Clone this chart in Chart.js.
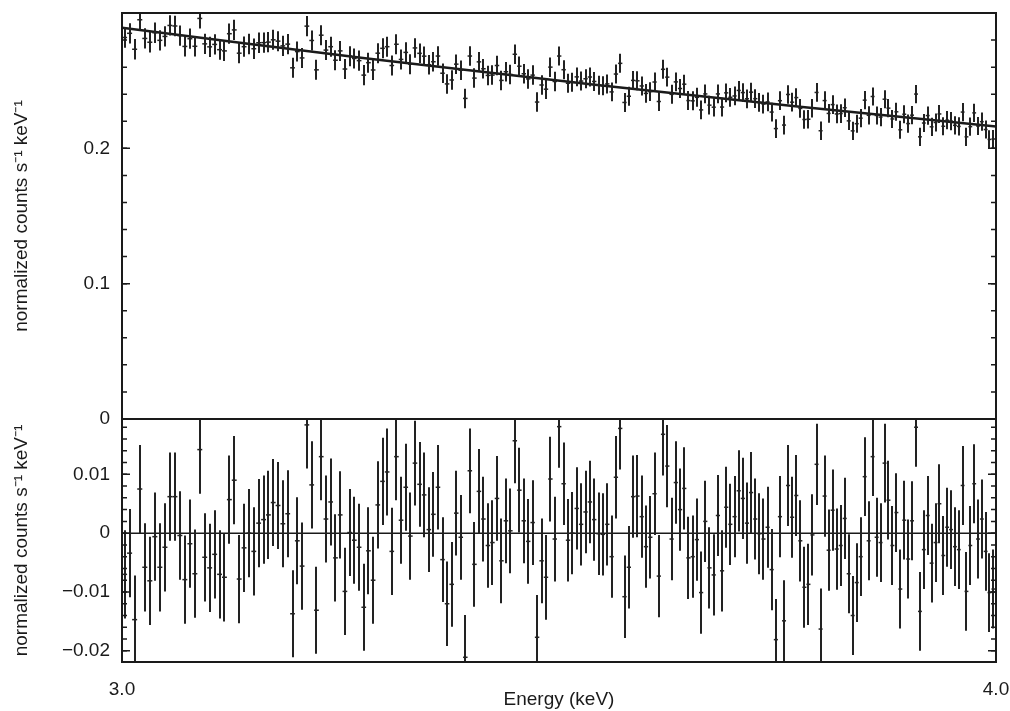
<!DOCTYPE html>
<html>
<head>
<meta charset="utf-8">
<title>Energy spectrum and residuals</title>
<script src="https://cdn.jsdelivr.net/npm/chart.js@4.4.1/dist/chart.umd.min.js"></script>
<style>
  html, body { margin: 0; padding: 0; background: #fff; }
  #wrap { width: 1010px; height: 711px; }
</style>
</head>
<body>
<div id="wrap"><canvas id="spectrum"></canvas></div>
<script>
// Channel centres (keV)
const energy = [
  3.0025, 3.0075, 3.0125, 3.0176, 3.0226, 3.0276, 3.0326, 3.0376, 3.0427, 3.0477,
  3.0527, 3.0577, 3.0627, 3.0678, 3.0728, 3.0778, 3.0828, 3.0878, 3.0929, 3.0979,
  3.1029, 3.1079, 3.1129, 3.1180, 3.1230, 3.1280, 3.1330, 3.1380, 3.1431, 3.1481,
  3.1531, 3.1581, 3.1631, 3.1682, 3.1732, 3.1782, 3.1832, 3.1882, 3.1933, 3.1983,
  3.2033, 3.2083, 3.2133, 3.2184, 3.2234, 3.2284, 3.2334, 3.2384, 3.2435, 3.2485,
  3.2535, 3.2585, 3.2635, 3.2686, 3.2736, 3.2786, 3.2836, 3.2886, 3.2937, 3.2987,
  3.3037, 3.3087, 3.3137, 3.3188, 3.3238, 3.3288, 3.3338, 3.3388, 3.3439, 3.3489,
  3.3539, 3.3589, 3.3639, 3.3690, 3.3740, 3.3790, 3.3840, 3.3890, 3.3941, 3.3991,
  3.4041, 3.4091, 3.4141, 3.4192, 3.4242, 3.4292, 3.4342, 3.4392, 3.4443, 3.4493,
  3.4543, 3.4593, 3.4643, 3.4694, 3.4744, 3.4794, 3.4844, 3.4894, 3.4945, 3.4995,
  3.5045, 3.5095, 3.5145, 3.5196, 3.5246, 3.5296, 3.5346, 3.5396, 3.5447, 3.5497,
  3.5547, 3.5597, 3.5647, 3.5698, 3.5748, 3.5798, 3.5848, 3.5898, 3.5949, 3.5999,
  3.6049, 3.6099, 3.6149, 3.6200, 3.6250, 3.6300, 3.6350, 3.6400, 3.6451, 3.6501,
  3.6551, 3.6601, 3.6651, 3.6702, 3.6752, 3.6802, 3.6852, 3.6902, 3.6953, 3.7003,
  3.7053, 3.7103, 3.7153, 3.7204, 3.7254, 3.7304, 3.7354, 3.7404, 3.7455, 3.7505,
  3.7555, 3.7605, 3.7655, 3.7706, 3.7756, 3.7806, 3.7856, 3.7906, 3.7957, 3.8007,
  3.8057, 3.8107, 3.8157, 3.8208, 3.8258, 3.8308, 3.8358, 3.8408, 3.8459, 3.8509,
  3.8559, 3.8609, 3.8659, 3.8710, 3.8760, 3.8810, 3.8860, 3.8910, 3.8961, 3.9011,
  3.9061, 3.9111, 3.9161, 3.9212, 3.9262, 3.9312, 3.9362, 3.9412, 3.9463, 3.9513,
  3.9563, 3.9613, 3.9663, 3.9714, 3.9764, 3.9814, 3.9864, 3.9914, 3.9965
];

// Normalized counts s^-1 keV^-1 per channel
const rate = [
  0.2819, 0.2850, 0.2732, 0.2950, 0.2812, 0.2784, 0.2854, 0.2798, 0.2827, 0.2908,
  0.2904, 0.2833, 0.2753, 0.2810, 0.2754, 0.2960, 0.2772, 0.2750, 0.2768, 0.2729,
  0.2720, 0.2847, 0.2875, 0.2703, 0.2751, 0.2771, 0.2736, 0.2780, 0.2781, 0.2785,
  0.2802, 0.2792, 0.2757, 0.2770, 0.2595, 0.2715, 0.2668, 0.2903, 0.2797, 0.2580,
  0.2836, 0.2726, 0.2751, 0.2651, 0.2720, 0.2586, 0.2681, 0.2664, 0.2648, 0.2541,
  0.2633, 0.2579, 0.2703, 0.2739, 0.2751, 0.2612, 0.2769, 0.2657, 0.2709, 0.2622,
  0.2742, 0.2702, 0.2681, 0.2618, 0.2640, 0.2682, 0.2555, 0.2476, 0.2505, 0.2622,
  0.2577, 0.2369, 0.2682, 0.2519, 0.2639, 0.2588, 0.2539, 0.2541, 0.2612, 0.2502,
  0.2566, 0.2546, 0.2695, 0.2607, 0.2551, 0.2513, 0.2541, 0.2342, 0.2468, 0.2437,
  0.2600, 0.2494, 0.2682, 0.2581, 0.2481, 0.2489, 0.2528, 0.2497, 0.2514, 0.2527,
  0.2494, 0.2466, 0.2462, 0.2476, 0.2417, 0.2549, 0.2628, 0.2339, 0.2385, 0.2502,
  0.2499, 0.2461, 0.2406, 0.2419, 0.2490, 0.2346, 0.2584, 0.2526, 0.2399, 0.2491,
  0.2442, 0.2474, 0.2353, 0.2351, 0.2377, 0.2284, 0.2402, 0.2319, 0.2304, 0.2402,
  0.2305, 0.2410, 0.2377, 0.2387, 0.2428, 0.2412, 0.2366, 0.2415, 0.2367, 0.2339,
  0.2327, 0.2343, 0.2268, 0.2146, 0.2352, 0.2172, 0.2398, 0.2341, 0.2375, 0.2295,
  0.2213, 0.2215, 0.2296, 0.2413, 0.2130, 0.2353, 0.2258, 0.2323, 0.2254, 0.2257,
  0.2300, 0.2203, 0.2129, 0.2182, 0.2223, 0.2356, 0.2244, 0.2383, 0.2243, 0.2231,
  0.2363, 0.2297, 0.2217, 0.2270, 0.2137, 0.2252, 0.2183, 0.2245, 0.2401, 0.2085,
  0.2187, 0.2242, 0.2159, 0.2191, 0.2254, 0.2163, 0.2208, 0.2201, 0.2170, 0.2162,
  0.2268, 0.2085, 0.2160, 0.2262, 0.2165, 0.2197, 0.2139, 0.2066, 0.2069
];

// Data minus model per channel
const resid = [
  -0.0070, -0.0034, -0.0147, 0.0075, -0.0058, -0.0081, -0.0006, -0.0058, -0.0024, 0.0062,
  0.0062, -0.0004, -0.0079, -0.0018, -0.0069, 0.0142, -0.0041, -0.0059, -0.0036, -0.0070,
  -0.0075, 0.0057, 0.0090, -0.0078, -0.0025, 0.0000, -0.0031, 0.0017, 0.0023, 0.0031,
  0.0052, 0.0047, 0.0016, 0.0033, -0.0137, -0.0013, -0.0056, 0.0184, 0.0082, -0.0131,
  0.0130, 0.0024, 0.0053, -0.0042, 0.0031, -0.0099, 0.0001, -0.0012, -0.0024, -0.0126,
  -0.0030, -0.0080, 0.0048, 0.0088, 0.0104, -0.0031, 0.0130, 0.0022, 0.0078, -0.0005,
  0.0119, 0.0083, 0.0065, 0.0006, 0.0032, 0.0078, -0.0045, -0.0120, -0.0087, 0.0034,
  -0.0007, -0.0211, 0.0106, -0.0053, 0.0071, 0.0024, -0.0021, -0.0016, 0.0059, -0.0047,
  0.0021, 0.0004, 0.0157, 0.0073, 0.0021, -0.0014, 0.0018, -0.0177, -0.0047, -0.0075,
  0.0092, -0.0010, 0.0181, 0.0084, -0.0012, 0.0000, 0.0042, 0.0015, 0.0036, 0.0053,
  0.0023, -0.0001, -0.0002, 0.0015, -0.0040, 0.0095, 0.0178, -0.0108, -0.0058, 0.0062,
  0.0063, 0.0028, -0.0023, -0.0007, 0.0067, -0.0073, 0.0168, 0.0114, -0.0010, 0.0086,
  0.0040, 0.0076, -0.0042, -0.0040, -0.0011, -0.0101, 0.0020, -0.0059, -0.0071, 0.0030,
  -0.0064, 0.0044, 0.0015, 0.0028, 0.0072, 0.0059, 0.0017, 0.0069, 0.0024, -0.0001,
  -0.0010, 0.0010, -0.0062, -0.0181, 0.0028, -0.0149, 0.0081, 0.0027, 0.0064, -0.0013,
  -0.0092, -0.0087, -0.0003, 0.0117, -0.0163, 0.0063, -0.0029, 0.0039, -0.0027, -0.0021,
  0.0025, -0.0069, -0.0140, -0.0084, -0.0040, 0.0096, -0.0013, 0.0130, -0.0007, -0.0016,
  0.0119, 0.0056, -0.0021, 0.0035, -0.0095, 0.0022, -0.0044, 0.0021, 0.0180, -0.0133,
  -0.0028, 0.0030, -0.0051, -0.0016, 0.0050, -0.0038, 0.0010, 0.0006, -0.0023, -0.0028,
  0.0081, -0.0099, -0.0021, 0.0084, -0.0010, 0.0024, -0.0031, -0.0101, -0.0095
];

// 1-sigma errors, shared by both panels
const rateErr = [
  0.0075, 0.0075, 0.0075, 0.0075, 0.0075, 0.0075, 0.0075, 0.0075, 0.0075, 0.0075,
  0.0075, 0.0075, 0.0075, 0.0075, 0.0075, 0.0075, 0.0075, 0.0075, 0.0075, 0.0075,
  0.0075, 0.0075, 0.0075, 0.0075, 0.0075, 0.0075, 0.0075, 0.0075, 0.0075, 0.0075,
  0.0074, 0.0074, 0.0074, 0.0074, 0.0074, 0.0074, 0.0074, 0.0074, 0.0074, 0.0074,
  0.0074, 0.0074, 0.0074, 0.0074, 0.0074, 0.0074, 0.0074, 0.0074, 0.0074, 0.0074,
  0.0074, 0.0074, 0.0074, 0.0074, 0.0074, 0.0074, 0.0074, 0.0074, 0.0074, 0.0074,
  0.0072, 0.0072, 0.0072, 0.0072, 0.0072, 0.0072, 0.0072, 0.0072, 0.0072, 0.0072,
  0.0072, 0.0072, 0.0072, 0.0072, 0.0072, 0.0072, 0.0072, 0.0072, 0.0072, 0.0072,
  0.0072, 0.0072, 0.0072, 0.0072, 0.0072, 0.0072, 0.0072, 0.0072, 0.0072, 0.0072,
  0.0072, 0.0072, 0.0070, 0.0070, 0.0070, 0.0070, 0.0070, 0.0070, 0.0070, 0.0070,
  0.0070, 0.0070, 0.0070, 0.0070, 0.0070, 0.0070, 0.0070, 0.0070, 0.0070, 0.0070,
  0.0070, 0.0070, 0.0070, 0.0070, 0.0070, 0.0070, 0.0070, 0.0070, 0.0070, 0.0070,
  0.0070, 0.0070, 0.0070, 0.0070, 0.0070, 0.0070, 0.0069, 0.0069, 0.0069, 0.0069,
  0.0069, 0.0069, 0.0069, 0.0069, 0.0069, 0.0069, 0.0069, 0.0069, 0.0069, 0.0069,
  0.0069, 0.0069, 0.0069, 0.0069, 0.0069, 0.0069, 0.0069, 0.0069, 0.0069, 0.0069,
  0.0069, 0.0069, 0.0069, 0.0069, 0.0069, 0.0069, 0.0069, 0.0069, 0.0069, 0.0069,
  0.0069, 0.0067, 0.0067, 0.0067, 0.0067, 0.0067, 0.0067, 0.0067, 0.0067, 0.0067,
  0.0067, 0.0067, 0.0067, 0.0067, 0.0067, 0.0067, 0.0067, 0.0067, 0.0067, 0.0067,
  0.0067, 0.0067, 0.0067, 0.0067, 0.0067, 0.0067, 0.0067, 0.0067, 0.0067, 0.0067,
  0.0067, 0.0067, 0.0067, 0.0067, 0.0067, 0.0067, 0.0067, 0.0067, 0.0067
];
const binHalfWidth = 0.0025;

// Folded model curve
const modelEnergy = [3.0, 3.125, 3.25, 3.375, 3.5, 3.625, 3.75, 3.875, 4.0];
const modelRate = [0.2891, 0.2774, 0.2666, 0.2567, 0.2474, 0.2388, 0.2308, 0.2233, 0.2162];

// Axis ticks
const energyTicks = [3, 4];
const rateTicks = [0, 0.1, 0.2];
const residTicks = [-0.02, -0.01, 0, 0.01];
const rateMinorStep = 0.02;
const residMinorStep = 0.002;

const INK = '#1a1a1a';
const BAR = '#222222';

Chart.defaults.font.family = "'Liberation Sans', Arial, Helvetica, sans-serif";
Chart.defaults.font.size = 19;
Chart.defaults.color = INK;

const fmt = v => (v < 0 ? '\u2212' + String(-v) : String(v));

// vertical + horizontal error bars, clipped to each panel
const errorBars = {
  id: 'errorBars',
  afterDatasetsDraw(chart) {
    const { ctx, chartArea, scales } = chart;
    const xs = scales.x;
    chart.data.datasets.forEach(ds => {
      if (!ds.yErr) return;
      const ys = scales[ds.yAxisID];
      ctx.save();
      ctx.beginPath();
      ctx.rect(chartArea.left, ys.top, chartArea.right - chartArea.left, ys.bottom - ys.top);
      ctx.clip();
      ctx.strokeStyle = ds.borderColor;
      ds.data.forEach((p, i) => {
        const px = Math.round(xs.getPixelForValue(p.x));
        const py = ys.getPixelForValue(p.y);
        ctx.lineWidth = 2;
        ctx.beginPath();
        ctx.moveTo(px, ys.getPixelForValue(p.y - ds.yErr[i]));
        ctx.lineTo(px, ys.getPixelForValue(p.y + ds.yErr[i]));
        ctx.stroke();
        ctx.lineWidth = 1.5;
        ctx.beginPath();
        ctx.moveTo(xs.getPixelForValue(p.x - ds.xErr), py);
        ctx.lineTo(xs.getPixelForValue(p.x + ds.xErr), py);
        ctx.stroke();
      });
      ctx.restore();
    });
  }
};

// panel boxes with inward ticks on both sides
const panelFrame = {
  id: 'panelFrame',
  afterDraw(chart) {
    const { ctx, chartArea } = chart;
    const L = chartArea.left, R = chartArea.right;
    const panels = [
      { s: chart.scales.y, major: rateTicks, step: rateMinorStep },
      { s: chart.scales.yRes, major: residTicks, step: residMinorStep }
    ];
    ctx.save();
    ctx.strokeStyle = INK;
    panels.forEach(({ s, major, step }) => {
      ctx.lineWidth = 2;
      ctx.strokeRect(L, s.top, R - L, s.bottom - s.top);
      ctx.lineWidth = 1.5;
      const tick = (v, len) => {
        const py = s.getPixelForValue(v);
        if (py <= s.top + 1 || py >= s.bottom - 1) return;
        ctx.beginPath();
        ctx.moveTo(L, py); ctx.lineTo(L + len, py);
        ctx.moveTo(R, py); ctx.lineTo(R - len, py);
        ctx.stroke();
      };
      for (let k = Math.ceil(s.min / step); k * step <= s.max; k++) tick(k * step, 5);
      major.forEach(v => tick(v, 8));
    });
    ctx.restore();
  }
};

const yTitle = {
  display: true,
  text: 'normalized counts s\u207B\u00B9 keV\u207B\u00B9',
  padding: { top: 10, bottom: 0 }
};

// fixed left gutter, no extra label overhang
const fitLeftAxis = s => {
  s.width = 122;
  s.paddingTop = 0;
  s.paddingBottom = 0;
};

new Chart(document.getElementById('spectrum'), {
  type: 'scatter',
  data: {
    datasets: [
      {
        type: 'line',
        data: modelEnergy.map((e, i) => ({ x: e, y: modelRate[i] })),
        yAxisID: 'y',
        borderColor: INK,
        borderWidth: 2.5,
        pointRadius: 0
      },
      {
        type: 'line',
        data: energyTicks.map(e => ({ x: e, y: 0 })),
        yAxisID: 'yRes',
        borderColor: INK,
        borderWidth: 1.5,
        pointRadius: 0
      },
      {
        data: energy.map((e, i) => ({ x: e, y: rate[i] })),
        yAxisID: 'y',
        pointRadius: 0,
        borderColor: BAR,
        yErr: rateErr,
        xErr: binHalfWidth
      },
      {
        data: energy.map((e, i) => ({ x: e, y: resid[i] })),
        yAxisID: 'yRes',
        pointRadius: 0,
        borderColor: BAR,
        yErr: rateErr,
        xErr: binHalfWidth
      }
    ]
  },
  options: {
    responsive: true,
    maintainAspectRatio: false,
    animation: false,
    layout: { padding: { top: 13, right: 14, bottom: 0, left: 0 } },
    plugins: {
      legend: { display: false },
      tooltip: { enabled: false }
    },
    scales: {
      x: {
        type: 'logarithmic',
        min: 3,
        max: 4,
        position: 'bottom',
        grid: { display: false, drawTicks: false },
        border: { display: false },
        afterBuildTicks: s => { s.ticks = energyTicks.map(v => ({ value: v })); },
        afterFit: s => {
          s.height = 49;
          s.paddingLeft = 0;
          s.paddingRight = 0;
        },
        ticks: { autoSkip: false, maxRotation: 0, padding: 16, callback: v => Number(v).toFixed(1) },
        title: { display: true, text: 'Energy (keV)', padding: { top: 0, bottom: 0 } }
      },
      // listed first so it lands under the spectrum panel
      yRes: {
        type: 'linear',
        position: 'left',
        stack: 'panels',
        stackWeight: 243,
        min: -0.0219,
        max: 0.0194,
        grid: { display: false, drawTicks: false },
        border: { display: false },
        afterBuildTicks: s => { s.ticks = residTicks.map(v => ({ value: v })); },
        afterFit: fitLeftAxis,
        ticks: { padding: 12, callback: v => fmt(v) },
        title: yTitle
      },
      y: {
        type: 'linear',
        position: 'left',
        stack: 'panels',
        stackWeight: 406,
        min: 0,
        max: 0.3,
        grid: { display: false, drawTicks: false },
        border: { display: false },
        afterBuildTicks: s => { s.ticks = rateTicks.map(v => ({ value: v })); },
        afterFit: fitLeftAxis,
        ticks: { padding: 12, callback: v => fmt(v) },
        title: yTitle
      }
    }
  },
  plugins: [errorBars, panelFrame]
});
</script>
</body>
</html>
